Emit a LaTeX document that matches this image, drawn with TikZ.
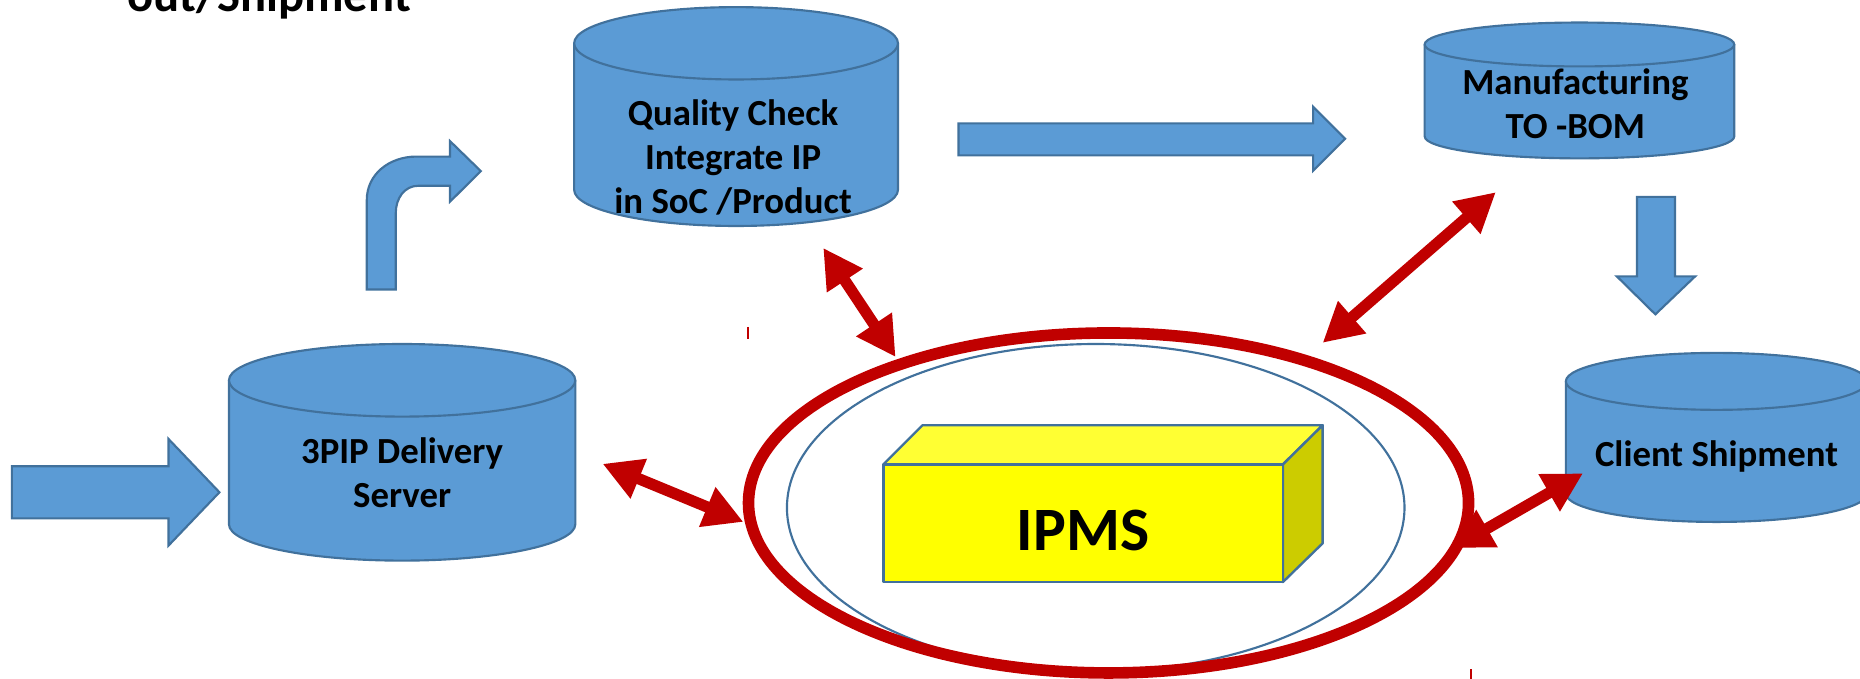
\documentclass[tikz,border=0pt]{standalone}
\usepackage{fontspec}
\setmainfont{Carlito}
\usetikzlibrary{arrows.meta}
\definecolor{cylfill}{HTML}{5B9BD5}
\definecolor{cyledge}{HTML}{41719C}
\definecolor{ipred}{HTML}{C00000}
\definecolor{boxfront}{HTML}{FFFF00}
\definecolor{boxtop}{HTML}{FFFF33}
\definecolor{boxside}{HTML}{CCCC00}
\tikzset{
  blueshape/.style={fill=cylfill, draw=cyledge, line width=1.8pt, line join=miter},
  edgeline/.style={draw=cyledge, line width=1.8pt},
  lbl/.style={font=\bfseries\fontsize{31}{37.3}\selectfont, align=center, inner sep=0pt, anchor=base},
  redlink/.style={draw=ipred, line width=9.5pt, {Triangle[length=33pt,width=34pt]}-{Triangle[length=33pt,width=34pt]}},
  boxface/.style={draw=cyledge, line width=2pt, line join=round},
}
\newcommand\drawcyl[5]{%
  \pgfmathsetmacro\mycylcx{(#1+#2)/2}%
  \pgfmathsetmacro\mycylrx{(#2-#1)/2}%
  \path[fill=cylfill] (#1,#3) -- (#1,#4) arc[start angle=180,end angle=0,x radius=\mycylrx,y radius=#5] -- (#2,#3) -- cycle;
  \draw[edgeline] (#1,#3) -- (#1,#4) arc[start angle=180,end angle=0,x radius=\mycylrx,y radius=#5] -- (#2,#3);
  \draw[blueshape] (\mycylcx,#3) ellipse[x radius=\mycylrx, y radius=#5];
}
\begin{document}
\begin{tikzpicture}[x=1pt,y=-1pt]
\useasboundingbox (0,0) rectangle (1568,572);
\clip (0,0) rectangle (1568,572);

% title (cut at top, as in the reference)
\node[font=\bfseries\fontsize{41}{49}\selectfont, anchor=base west, inner sep=0pt] (title) at (107,9.3) {out/Shipment};

% cylinders
\drawcyl{484}{757}{36.5}{160}{30.5}
\drawcyl{1201}{1462}{37.5}{115}{18.5}
\drawcyl{193}{485}{320.6}{442}{30.6}
\drawcyl{1320}{1574}{321.5}{416}{24}

% labels (base anchor = baseline of the last line)
\node[lbl] (qc) at (618,180) {Quality Check\\Integrate IP\\in SoC /Product};
\node[lbl] (mfg) at (1328,117) {Manufacturing\\TO -BOM};
\node[lbl] (pip) at (339,428) {3PIP Delivery\\Server};
\node[lbl] (cs) at (1447,393.5) {Client Shipment};

% block arrows
\draw[blueshape] (10,393) -- (142,393) -- (142,370) -- (185,415) -- (142,460) -- (142,437) -- (10,437) -- cycle;
\draw[blueshape] (309.2,244) -- (309.2,168.6) .. controls (309.2,147) and (328,132) .. (351,132) -- (379.4,132) -- (379.4,119) -- (405.3,144.2) -- (379.4,170) -- (379.4,156.6) -- (352.7,156.6) .. controls (341,156.6) and (333.6,167) .. (333.6,180) -- (333.6,244) -- cycle;
\draw[blueshape] (808,104) -- (1107,104) -- (1107,90) -- (1134,117) -- (1107,144) -- (1107,131) -- (808,131) -- cycle;
\draw[blueshape] (1380,166) -- (1412,166) -- (1412,233) -- (1429,233) -- (1395.5,265) -- (1363,233) -- (1380,233) -- cycle;

% IPMS ring
\draw[edgeline] (923.7,428) ellipse[x radius=260.3, y radius=138];
\draw[boxface, fill=boxtop] (744.7,391.5) -- (777.6,358.5) -- (1115,358.5) -- (1081.5,391.5) -- cycle;
\draw[boxface, fill=boxside] (1081.5,391.5) -- (1115,358.5) -- (1115,458) -- (1081.5,490.7) -- cycle;
\draw[boxface, fill=boxfront] (744.7,391.5) rectangle (1081.5,490.7);
\node[font=\bfseries\fontsize{52}{60}\selectfont, anchor=base, inner sep=0pt] (ipms) at (913,463.7) {IPMS};
\draw[ipred, line width=9.8pt] (934.5,424) ellipse[x radius=303.5, y radius=143.3];

% small red marks
\draw[ipred, line width=1.5pt] (630.5,275.5) -- (630.5,285.4);
\draw[ipred, line width=1.5pt] (1240,564) -- (1240,572);

% red connectors
\coordinate (pipR) at (508,391);
\coordinate (ringW) at (626.7,440);
\coordinate (qcB) at (694,209);
\coordinate (ringNW) at (755,301);
\coordinate (mfgB) at (1261,162);
\coordinate (ringNE) at (1115,289);
\coordinate (ringE) at (1225,462);
\coordinate (csW) at (1334.5,399);
\draw[redlink] (pipR) -- (ringW);
\draw[redlink] (qcB) -- (ringNW);
\draw[redlink] (mfgB) -- (ringNE);
\draw[redlink] (ringE) -- (csW);
\end{tikzpicture}
\end{document}
